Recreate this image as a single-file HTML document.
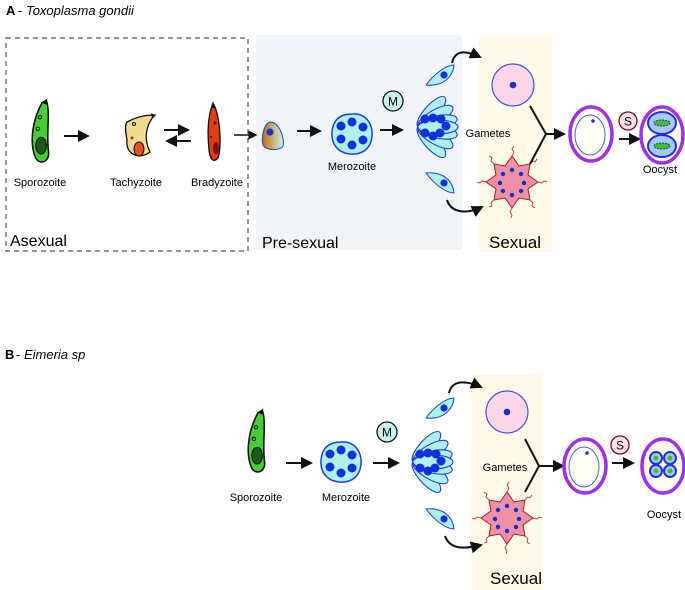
<!DOCTYPE html>
<html><head><meta charset="utf-8"><style>
body{margin:0;background:#fff;}
svg{display:block;font-family:"Liberation Sans",sans-serif;}
</style></head><body>
<svg width="685" height="590" viewBox="0 0 685 590" xmlns="http://www.w3.org/2000/svg">
<defs>
<marker id="ah" markerWidth="6" markerHeight="6" refX="5" refY="3" orient="auto" markerUnits="strokeWidth"><path d="M0,0 L6,3 L0,6 z" fill="#111"/></marker>
<linearGradient id="gr" x1="0" x2="1"><stop offset="0" stop-color="#c86a10"/><stop offset="0.5" stop-color="#c8b070"/><stop offset="1" stop-color="#c8f0e8"/></linearGradient>
<g id="spor">
<path d="M6,-30 C10,-20 6,0 8,18 C10,28 0,32 -4,25 C-10,12 -8,-10 2,-28 Z" fill="#44d030" stroke="#111" stroke-width="1.5"/>
<path d="M2,-28 L7,-32 L6,-26Z" fill="#111"/>
<ellipse cx="1" cy="13" rx="5" ry="8" fill="#1d5a18" stroke="#111"/>
<circle cx="0" cy="-14" r="1.6" fill="none" stroke="#111"/><circle cx="-2" cy="-3" r="1.6" fill="none" stroke="#111"/>
</g>
<g id="mero">
<path d="M0,-20 C14,-21 21,-10 20,2 C19,15 10,21 -2,20 C-14,19 -21,10 -20,-2 C-19,-14 -12,-20 0,-20Z" fill="#aef0ea" stroke="#2040e0" stroke-width="1.5"/>
<circle cx="-11" cy="-8" r="4.5" fill="#1030e0"/><circle cx="0" cy="-12" r="4.5" fill="#1030e0"/><circle cx="11" cy="-7" r="4.5" fill="#1030e0"/>
<circle cx="-11" cy="5" r="4.5" fill="#1030e0"/><circle cx="0" cy="11" r="4.5" fill="#1030e0"/><circle cx="11" cy="6" r="4.5" fill="#1030e0"/>
</g>
<g id="leaf"><ellipse cx="20" cy="0" rx="20" ry="7" fill="#aef0ea" stroke="#2040e0" stroke-width="1.1"/></g>
<g id="clus">
<g transform="rotate(-48)"><use href="#leaf"/></g><g transform="rotate(-30)"><use href="#leaf"/></g><g transform="rotate(-12)"><use href="#leaf"/></g>
<g transform="rotate(48)"><use href="#leaf"/></g><g transform="rotate(30)"><use href="#leaf"/></g><g transform="rotate(12)"><use href="#leaf"/></g>
<g transform="rotate(0)"><use href="#leaf"/></g>
<circle cx="7" cy="-8" r="4.5" fill="#1030e0"/><circle cx="15" cy="-9" r="4.5" fill="#1030e0"/><circle cx="23" cy="-8" r="4.5" fill="#1030e0"/>
<circle cx="7" cy="6" r="4.5" fill="#1030e0"/><circle cx="15" cy="9" r="4.5" fill="#1030e0"/><circle cx="22" cy="6" r="4.5" fill="#1030e0"/><circle cx="28" cy="-1" r="4.5" fill="#1030e0"/>
</g>
<g id="small"><path d="M-14,9 C-6,-2 6,-11 14,-11 C13,0 4,11 -14,9Z" fill="#aef0ea" stroke="#2040e0"/><circle cx="4" cy="-1" r="3.6" fill="#1030e0"/></g>
<g id="gam"><circle r="21" fill="#fbd6e6" stroke="#4050e0" stroke-width="1.2"/><circle r="3.3" fill="#1030d0"/></g>
<g id="star">
<path d="M0,-26 L7,-16 L18,-18 L16,-7 L26,0 L16,7 L18,18 L7,16 L0,26 L-7,16 L-18,18 L-16,7 L-26,0 L-16,-7 L-18,-18 L-7,-16Z" fill="#ee90a8" stroke="#b02020" stroke-width="1"/>
<path d="M0,-26 l2,-4 l-2,-3 l2,-3 M18,-18 l3,-3 l2,1 l2,-3 M26,0 l4,1 l2,-2 l3,1 M18,18 l3,3 l-1,3 l3,2 M0,26 l-2,4 l2,3 l-1,3 M-18,18 l-3,3 l1,3 l-3,1 M-26,0 l-4,-1 l-2,2 l-3,-1 M-18,-18 l-3,-3 l1,-3 l-3,-2" fill="none" stroke="#b02020" stroke-width="0.8"/>
<circle cx="0" cy="-12" r="2.2" fill="#1030d0"/><circle cx="9" cy="-8" r="2.2" fill="#1030d0"/><circle cx="12" cy="1" r="2.2" fill="#1030d0"/><circle cx="9" cy="9" r="2.2" fill="#1030d0"/><circle cx="0" cy="13" r="2.2" fill="#1030d0"/><circle cx="-9" cy="9" r="2.2" fill="#1030d0"/><circle cx="-12" cy="1" r="2.2" fill="#1030d0"/><circle cx="-9" cy="-8" r="2.2" fill="#1030d0"/>
</g>
<g id="oo1"><ellipse rx="21" ry="27" fill="#fffef4" stroke="#a030e8" stroke-width="3.5"/><ellipse cx="-1" cy="1" rx="15" ry="20" fill="none" stroke="#4060e8" stroke-width="1"/><circle cx="2" cy="-13" r="1.8" fill="#1030d0"/></g>
</defs>

<!-- PANEL A -->
<text x="6" y="15" font-size="13" font-weight="bold">A</text><text x="18" y="15" font-size="13"> - <tspan font-style="italic">Toxoplasma gondii</tspan></text>
<rect x="256" y="35" width="206" height="215" fill="#f2f5f7"/>
<rect x="479" y="35" width="73" height="217" fill="#fdfaea"/>
<rect x="6" y="38" width="242" height="213" fill="none" stroke="#555" stroke-dasharray="5,4" stroke-width="1.2"/>

<use href="#spor" transform="translate(40,132) scale(1.05)"/>
<line x1="64" y1="136" x2="88" y2="136" stroke="#111" stroke-width="2" marker-end="url(#ah)"/>
<path d="M127,122 C140,115 150,115 155,115 C145,125 144,140 150,152 C140,160 125,155 127,140 C125,130 125,125 127,122Z" fill="#f0dc90" stroke="#111" stroke-width="1.3"/>
<path d="M151,113 L155,115 L152,118Z" fill="#111"/>
<ellipse cx="139" cy="149" rx="5" ry="7" fill="#e85020" stroke="#111"/>
<circle cx="134" cy="124" r="1.5" fill="none" stroke="#111"/><circle cx="132" cy="138" r="1.5" fill="#a03030"/>
<line x1="164" y1="130" x2="188" y2="130" stroke="#111" stroke-width="2" marker-end="url(#ah)"/>
<line x1="191" y1="141" x2="167" y2="141" stroke="#111" stroke-width="2" marker-end="url(#ah)"/>
<path d="M213,103 C220,115 222,145 218,158 C214,163 210,160 209,150 C207,130 208,115 213,103Z" fill="#e04010" stroke="#111" stroke-width="1.3"/>
<path d="M213,103 L215,108 L211,108Z" fill="#111"/>
<ellipse cx="216" cy="148" rx="3" ry="6" fill="#801010"/><circle cx="215" cy="123" r="1.5" fill="#601010"/><circle cx="211" cy="137" r="1" fill="#601010"/>
<line x1="234" y1="135" x2="256" y2="135" stroke="#111" stroke-width="1.5" marker-end="url(#ah)"/>
<path d="M270,122 C280,122 285,140 283,146 C280,151 266,151 263,145 C261,138 264,123 270,122Z" fill="url(#gr)" stroke="#2040e0" stroke-width="1"/>
<circle cx="270" cy="132" r="3.5" fill="#1030e0"/>
<line x1="297" y1="131" x2="320" y2="131" stroke="#111" stroke-width="2" marker-end="url(#ah)"/>
<use href="#mero" transform="translate(352,134)"/>
<text x="352" y="170" font-size="11" text-anchor="middle">Merozoite</text>
<circle cx="393" cy="101" r="10" fill="#c6f2ee" stroke="#111" stroke-width="1.3"/><text x="393" y="105.5" font-size="12" text-anchor="middle">M</text>
<line x1="380" y1="130" x2="402" y2="130" stroke="#111" stroke-width="2" marker-end="url(#ah)"/>
<use href="#clus" transform="translate(418,127)"/>
<use href="#small" transform="translate(440,76)"/>
<use href="#small" transform="translate(440,182) scale(1,-1)"/>
<path d="M452,63 C455,50 465,50 480,57" fill="none" stroke="#111" stroke-width="2" marker-end="url(#ah)"/>
<path d="M447,200 C452,215 470,213 482,207" fill="none" stroke="#111" stroke-width="2" marker-end="url(#ah)"/>
<use href="#gam" transform="translate(513,85)"/>
<use href="#star" transform="translate(512,182)"/>
<text x="488" y="137" font-size="11" text-anchor="middle">Gametes</text>
<path d="M530,106 L546,134 L530,164" fill="none" stroke="#111" stroke-width="2"/>
<line x1="546" y1="134" x2="564" y2="134" stroke="#111" stroke-width="2" marker-end="url(#ah)"/>
<use href="#oo1" transform="translate(591,134)"/>
<circle cx="628" cy="121" r="9" fill="#fbe0ea" stroke="#701010" stroke-width="1.3"/><text x="628" y="125.5" font-size="12" text-anchor="middle">S</text>
<line x1="619" y1="139" x2="639" y2="139" stroke="#111" stroke-width="2" marker-end="url(#ah)"/>
<ellipse cx="662" cy="135" rx="21" ry="28" fill="#fffef4" stroke="#a030e8" stroke-width="3.5"/>
<ellipse cx="662" cy="123" rx="14" ry="11" fill="#a8c8f0" stroke="#2030e0" stroke-width="2"/>
<ellipse cx="662" cy="146" rx="14" ry="11" fill="#a8c8f0" stroke="#2030e0" stroke-width="2"/>
<ellipse cx="662" cy="123" rx="8" ry="3" fill="#40c020" stroke="#1030e0" stroke-dasharray="2,1"/>
<ellipse cx="662" cy="146" rx="8" ry="3" fill="#40c020" stroke="#1030e0" stroke-dasharray="2,1"/>
<text x="660" y="173" font-size="11" text-anchor="middle">Oocyst</text>

<text x="40" y="186" font-size="11" text-anchor="middle">Sporozoite</text>
<text x="136" y="186" font-size="11" text-anchor="middle">Tachyzoite</text>
<text x="217" y="186" font-size="11" text-anchor="middle">Bradyzoite</text>
<text x="10" y="246" font-size="16">Asexual</text>
<text x="262" y="248" font-size="16">Pre-sexual</text>
<text x="489" y="248" font-size="17">Sexual</text>

<!-- PANEL B -->
<text x="5" y="359" font-size="13" font-weight="bold">B</text><text x="16" y="359" font-size="13"> - <tspan font-style="italic">Eimeria  sp</tspan></text>
<rect x="470" y="375" width="73" height="215" fill="#fdfaea"/>
<use href="#spor" transform="translate(256,442) scale(1.05)"/>
<text x="256" y="501" font-size="11" text-anchor="middle">Sporozoite</text>
<line x1="286" y1="463" x2="311" y2="463" stroke="#111" stroke-width="2" marker-end="url(#ah)"/>
<use href="#mero" transform="translate(341,462)"/>
<text x="346" y="501" font-size="11" text-anchor="middle">Merozoite</text>
<circle cx="387" cy="432" r="10" fill="#c6f2ee" stroke="#111" stroke-width="1.3"/><text x="387" y="436.5" font-size="12" text-anchor="middle">M</text>
<line x1="373" y1="463" x2="398" y2="463" stroke="#111" stroke-width="2" marker-end="url(#ah)"/>
<use href="#clus" transform="translate(413,462)"/>
<use href="#small" transform="translate(440,409)"/>
<use href="#small" transform="translate(440,518) scale(1,-1)"/>
<path d="M449,393 C452,380 465,380 481,387" fill="none" stroke="#111" stroke-width="2" marker-end="url(#ah)"/>
<path d="M445,536 C450,550 465,549 481,545" fill="none" stroke="#111" stroke-width="2" marker-end="url(#ah)"/>
<use href="#gam" transform="translate(507,412)"/>
<use href="#star" transform="translate(507,518)"/>
<text x="505" y="471" font-size="11" text-anchor="middle">Gametes</text>
<path d="M525,439 L539,466 L525,492" fill="none" stroke="#111" stroke-width="2"/>
<line x1="539" y1="466" x2="563" y2="466" stroke="#111" stroke-width="2" marker-end="url(#ah)"/>
<use href="#oo1" transform="translate(585,466)"/>
<circle cx="620" cy="445" r="9" fill="#fbe0ea" stroke="#701010" stroke-width="1.3"/><text x="620" y="449.5" font-size="12" text-anchor="middle">S</text>
<line x1="612" y1="463" x2="633" y2="463" stroke="#111" stroke-width="2" marker-end="url(#ah)"/>
<ellipse cx="663" cy="466" rx="21" ry="27" fill="#fffef4" stroke="#a030e8" stroke-width="3.5"/>
<g fill="#a8c8f0" stroke="#2030e0" stroke-width="2">
<circle cx="656" cy="458" r="6"/><circle cx="670" cy="458" r="6"/><circle cx="656" cy="471" r="6"/><circle cx="670" cy="471" r="6"/></g>
<g fill="#40c020"><circle cx="656" cy="458" r="2.5"/><circle cx="670" cy="458" r="2.5"/><circle cx="656" cy="471" r="2.5"/><circle cx="670" cy="471" r="2.5"/></g>
<text x="664" y="518" font-size="11" text-anchor="middle">Oocyst</text>
<text x="490" y="584" font-size="17">Sexual</text>
</svg>
</body></html>
